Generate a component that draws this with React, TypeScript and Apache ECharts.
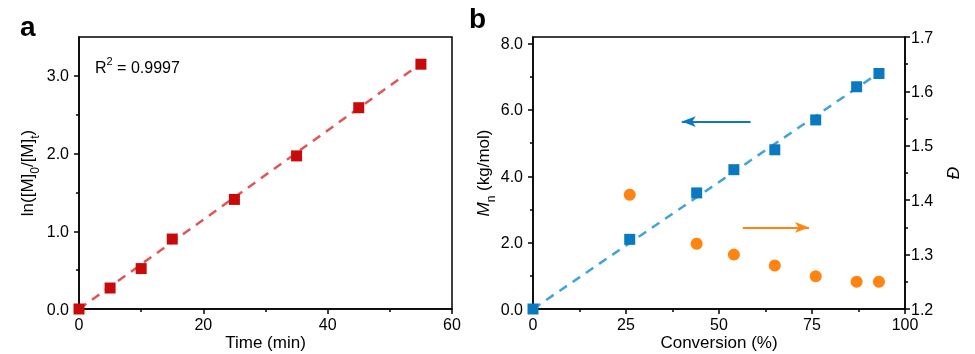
import React, { useEffect, useRef } from 'react';
import * as echarts from 'echarts';

// Panel a: first-order kinetics
const timeMin = [0, 5, 10, 15, 25, 35, 45, 55];
const lnRatio = [0, 0.27, 0.52, 0.9, 1.41, 1.97, 2.59, 3.15];
const fitTime = [0, 55];
const fitLn = [0, 3.16];
const lnMajorTicks = [0, 1, 2, 3];
const lnMinorTicks = [0.5, 1.5, 2.5];

// Panel b: Mn and dispersity vs conversion
const conversion = [0, 26, 44, 54, 65, 76, 87, 93];
const mnValues = [0, 2.1, 3.5, 4.2, 4.8, 5.7, 6.7, 7.1];
const dispConversion = [26, 44, 54, 65, 76, 87, 93];
const dispersity = [1.41, 1.32, 1.3, 1.28, 1.26, 1.25, 1.25];
const fitConv = [0, 93];
const fitMn = [0, 7.12];
const mnMajorTicks = [0, 2, 4, 6, 8];
const mnMinorTicks = [1, 3, 5, 7];
const mnArrowX = [58.5, 40];
const mnArrowY = 5.65;
const dArrowX = [56.4, 74.2];
const dArrowY = 1.35;

const FONT = 'Liberation Sans, Arial, Helvetica, sans-serif';
const BLACK = '#000';
const RED = '#c80a0a';
const RED_LINE = '#e05555';
const BLUE = '#0a79bf';
const BLUE_LINE = '#3fa4d8';
const ORANGE = '#ff8412';

const zip = (xs: number[], ys: number[]) => xs.map((x, i) => [x, ys[i]]);

const axisLine = { show: true, onZero: false, lineStyle: { color: BLACK, width: 1.5 } };
const tickStyle = { color: BLACK, width: 1.5 };
const labelBase = { color: BLACK, fontSize: 16, fontFamily: FONT, lineHeight: 16 };
const nameRich = {
  t: { fontSize: 17, fontFamily: FONT, color: BLACK, lineHeight: 22, verticalAlign: 'top' },
  i: { fontSize: 17, fontFamily: FONT, color: BLACK, lineHeight: 22, verticalAlign: 'top', fontStyle: 'italic' },
  sub: { fontSize: 12, fontFamily: FONT, color: BLACK, lineHeight: 12, verticalAlign: 'bottom' },
};
const xNameStyle = { fontSize: 17, fontFamily: FONT, color: BLACK, lineHeight: 16 };

export default function App() {
  const ref = useRef<HTMLDivElement>(null);
  useEffect(() => {
    if (!ref.current) return;
    const chart = echarts.init(ref.current, null, { renderer: 'svg' });
    const gridA = { left: 79, top: 37, width: 373, height: 272, outerBoundsMode: 'none', containLabel: false };
    const gridB = { left: 533, top: 37, width: 372, height: 272, outerBoundsMode: 'none', containLabel: false };
    const option: any = {
      animation: false,
      grid: [
        { ...gridA, show: true, borderColor: BLACK, borderWidth: 1.5, backgroundColor: 'transparent' },
        { ...gridB, show: true, borderColor: BLACK, borderWidth: 1.5, backgroundColor: 'transparent' },
        { ...gridA, show: false },
        { ...gridB, show: false },
      ],
      xAxis: [
        {
          type: 'value', gridIndex: 0, min: 0, max: 60, interval: 20,
          axisLine, axisTick: { show: true, length: 5, lineStyle: tickStyle },
          minorTick: { show: true, splitNumber: 2, length: 3, lineStyle: tickStyle },
          splitLine: { show: false },
          axisLabel: { ...labelBase, margin: 7 },
          name: 'Time (min)', nameLocation: 'middle', nameGap: 25, nameMoveOverlap: false,
          nameTextStyle: xNameStyle,
        },
        {
          type: 'value', gridIndex: 1, min: 0, max: 100, interval: 25,
          axisLine, axisTick: { show: true, length: 5, lineStyle: tickStyle },
          minorTick: { show: true, splitNumber: 2, length: 3, lineStyle: tickStyle },
          splitLine: { show: false },
          axisLabel: { ...labelBase, margin: 7 },
          name: 'Conversion (%)', nameLocation: 'middle', nameGap: 25, nameMoveOverlap: false,
          nameTextStyle: xNameStyle,
        },
        { type: 'value', gridIndex: 2, min: 0, max: 60, show: false },
        { type: 'value', gridIndex: 3, min: 0, max: 100, show: false },
      ],
      yAxis: [
        {
          type: 'value', gridIndex: 0, min: 0, max: 3.5, position: 'left',
          axisLine,
          axisTick: { show: true, length: 5, lineStyle: tickStyle, customValues: lnMajorTicks },
          axisLabel: { ...labelBase, margin: 10, customValues: lnMajorTicks, formatter: (v: number) => v.toFixed(1) },
          splitLine: { show: false },
          name: '{t|ln([M]}{sub|0}{t|/[M]}{sub|t}{t|)}',
          nameLocation: 'middle', nameGap: 38, nameRotate: 90,
          nameTextStyle: { rich: nameRich },
        },
        {
          type: 'value', gridIndex: 1, min: 0, max: 8.2, position: 'left',
          axisLine,
          axisTick: { show: true, length: 5, lineStyle: tickStyle, customValues: mnMajorTicks },
          axisLabel: { ...labelBase, margin: 10, customValues: mnMajorTicks, formatter: (v: number) => v.toFixed(1) },
          splitLine: { show: false },
          name: '{i|M}{sub|n}{t| (kg/mol)}',
          nameLocation: 'middle', nameGap: 35, nameRotate: 90,
          nameTextStyle: { rich: nameRich },
        },
        {
          type: 'value', gridIndex: 1, min: 1.2, max: 1.7, interval: 0.1, position: 'right',
          axisLine,
          axisTick: { show: true, length: 5, lineStyle: tickStyle },
          minorTick: { show: true, splitNumber: 2, length: 3, lineStyle: tickStyle },
          axisLabel: { ...labelBase, margin: 6, formatter: (v: number) => v.toFixed(1) },
          splitLine: { show: false },
          name: 'Đ', nameLocation: 'middle', nameGap: 40, nameRotate: 90,
          nameTextStyle: { fontSize: 17, fontFamily: FONT, color: BLACK, fontStyle: 'italic' },
        },
        {
          type: 'value', gridIndex: 2, min: 0, max: 3.5, position: 'left',
          axisLine: { show: false },
          axisTick: { show: true, length: 3, lineStyle: tickStyle, customValues: lnMinorTicks },
          axisLabel: { show: false },
          splitLine: { show: false },
        },
        {
          type: 'value', gridIndex: 3, min: 0, max: 8.2, position: 'left',
          axisLine: { show: false },
          axisTick: { show: true, length: 3, lineStyle: tickStyle, customValues: mnMinorTicks },
          axisLabel: { show: false },
          splitLine: { show: false },
        },
      ],
      series: [
        {
          type: 'line', xAxisIndex: 0, yAxisIndex: 0, data: zip(fitTime, fitLn),
          symbol: 'none', silent: true, z: 2,
          lineStyle: { color: RED_LINE, width: 2.5, type: [9, 7] },
        },
        {
          type: 'scatter', xAxisIndex: 0, yAxisIndex: 0, data: zip(timeMin, lnRatio),
          symbol: 'rect', symbolSize: 11, silent: true, z: 3,
          itemStyle: { color: RED, opacity: 1 },
        },
        {
          type: 'line', xAxisIndex: 1, yAxisIndex: 1, data: zip(fitConv, fitMn),
          symbol: 'none', silent: true, z: 2,
          lineStyle: { color: BLUE_LINE, width: 2.5, type: [9, 7] },
        },
        {
          type: 'scatter', xAxisIndex: 1, yAxisIndex: 1, data: zip(conversion, mnValues),
          symbol: 'rect', symbolSize: 11, silent: true, z: 3,
          itemStyle: { color: BLUE, opacity: 1 },
          markLine: {
            silent: true, symbol: ['none', 'arrow'], symbolSize: [8, 14],
            label: { show: false }, emphasis: { disabled: true },
            lineStyle: { color: BLUE, width: 2, type: 'solid' },
            data: [[{ coord: [mnArrowX[0], mnArrowY] }, { coord: [mnArrowX[1], mnArrowY] }]],
          },
        },
        {
          type: 'scatter', xAxisIndex: 1, yAxisIndex: 2, data: zip(dispConversion, dispersity),
          symbol: 'circle', symbolSize: 12, silent: true, z: 3,
          itemStyle: { color: ORANGE, opacity: 1 },
          markLine: {
            silent: true, symbol: ['none', 'arrow'], symbolSize: [8, 14],
            label: { show: false }, emphasis: { disabled: true },
            lineStyle: { color: ORANGE, width: 2, type: 'solid' },
            data: [[{ coord: [dArrowX[0], dArrowY] }, { coord: [dArrowX[1], dArrowY] }]],
          },
        },
      ],
      graphic: [
        {
          type: 'text', left: 20, top: 12, silent: true,
          style: { text: 'a', fontSize: 28, fontWeight: 'bold', fontFamily: FONT, fill: BLACK },
        },
        {
          type: 'text', left: 469, top: 4, silent: true,
          style: { text: 'b', fontSize: 28, fontWeight: 'bold', fontFamily: FONT, fill: BLACK },
        },
        {
          type: 'text', left: 95, top: 55, silent: true,
          style: {
            text: '{r|R}{s|2}{r| = 0.9997}',
            rich: {
              r: { fontSize: 16, fontFamily: FONT, fill: BLACK, lineHeight: 20, verticalAlign: 'bottom' },
              s: { fontSize: 11, fontFamily: FONT, fill: BLACK, lineHeight: 14, verticalAlign: 'top' },
            },
          },
        },
      ],
    };
    chart.setOption(option);
    return () => chart.dispose();
  }, []);
  return <div ref={ref} style={{ position: 'fixed', left: 0, top: 0, width: 975, height: 354 }} />;
}
